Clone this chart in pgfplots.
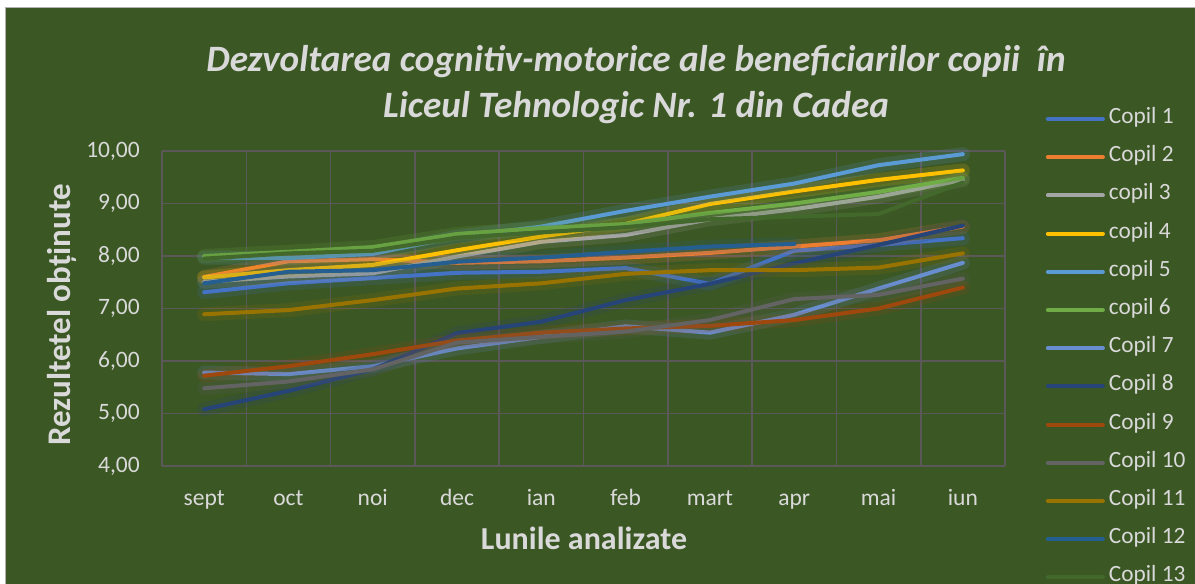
\documentclass[border=0pt]{standalone}
\usepackage{fontspec}
\setmainfont{Carlito}
\usepackage{pgfplots}
\pgfplotsset{compat=1.18}
\definecolor{bg}{RGB}{59,87,36}
\definecolor{gridc}{RGB}{90,88,88}
\definecolor{txt}{RGB}{217,217,217}
\definecolor{c1}{HTML}{4472C4}
\definecolor{c2}{HTML}{ED7D31}
\definecolor{c3}{HTML}{A5A5A5}
\definecolor{c4}{HTML}{FFC000}
\definecolor{c5}{HTML}{5B9BD5}
\definecolor{c6}{HTML}{70AD47}
\definecolor{c7}{HTML}{698ED0}
\definecolor{c8}{HTML}{264478}
\definecolor{c9}{HTML}{9E480E}
\definecolor{c10}{HTML}{636363}
\definecolor{c11}{HTML}{997300}
\definecolor{c12}{HTML}{255E91}
\definecolor{c13}{HTML}{43682B}
\newif\ifglow \glowtrue
\tikzset{glow/.code={\ifglow\tikzset{preaction={draw,line width=14pt,opacity=0.16}}\fi}}
\begin{document}
\begin{tikzpicture}
\useasboundingbox (0,0) rectangle (1195pt,584pt);
\fill[white] (0,0) rectangle (1195pt,584pt);
\fill[bg] (5pt,0) rectangle (1195pt,577pt);
\draw[gray!60, line width=0.8pt] (5pt,0) -- (5pt,577pt) -- (1195pt,577pt);
\begin{scope}
\clip (0,0) rectangle (1195pt,584pt);
\begin{axis}[
  at={(162pt,118pt)}, anchor=south west,
  scale only axis, width=843pt, height=315pt,
  xmin=-0.5, xmax=9.5, ymin=4, ymax=10,
  xtick={0,...,9},
  xticklabels={sept,oct,noi,dec,ian,feb,mart,apr,mai,iun},
  minor xtick={-0.5,0.5,...,9.5},
  xminorgrids, ymajorgrids,
  ytick={4,5,...,10},
  major tick length=0pt, minor tick length=0pt,
  axis line style={draw=none},
  grid style={gridc, line width=1.6pt},
  minor grid style={gridc, line width=1.6pt},
  tick label style={txt, font=\fontsize{23.5}{26}\selectfont, inner sep=0pt},
  /pgf/number format/assume math mode=true,
  yticklabel={\pgfmathprintnumber[fixed, fixed zerofill, precision=2, use comma]{\tick}},
  yticklabel style={anchor=east, xshift=-22pt},
  xticklabel style={anchor=base, yshift=-39pt},
  clip=false,
  legend style={/utils/exec={\global\glowfalse},
    at={(axis description cs:1.0447,1.1355)}, anchor=north west,
    draw=none, fill=none, text=txt, font=\fontsize{23.3}{26}\selectfont,
    row sep=21.2pt, column sep=4pt, nodes={inner sep=0pt, text height=13pt, text depth=4pt}},
  legend cell align=left,
  legend image code/.code={\global\glowfalse\draw[#1, line width=4pt, line cap=round] (0pt,0pt) -- (55pt,0pt);},
  every axis plot/.append style={line width=4pt, line cap=round, line join=round, glow},
]
\addplot[c1] coordinates {(0,7.31)(1,7.48)(2,7.58)(3,7.68)(4,7.70)(5,7.77)(6,7.47)(7,8.10)(8,8.21)(9,8.34)};
\addlegendentry{Copil 1}
\addplot[c2] coordinates {(0,7.60)(1,7.90)(2,7.94)(3,7.87)(4,7.90)(5,7.97)(6,8.06)(7,8.18)(8,8.30)(9,8.56)};
\addlegendentry{Copil 2}
\addplot[c3] coordinates {(0,7.51)(1,7.61)(2,7.67)(3,7.99)(4,8.27)(5,8.40)(6,8.70)(7,8.89)(8,9.13)(9,9.45)};
\addlegendentry{copil 3}
\addplot[c4] coordinates {(0,7.59)(1,7.73)(2,7.83)(3,8.11)(4,8.37)(5,8.61)(6,8.99)(7,9.23)(8,9.45)(9,9.63)};
\addlegendentry{copil 4}
\addplot[c5] coordinates {(0,7.97)(1,7.96)(2,8.04)(3,8.37)(4,8.56)(5,8.86)(6,9.13)(7,9.38)(8,9.73)(9,9.94)};
\addlegendentry{copil 5}
\addplot[c6] coordinates {(0,8.00)(1,8.08)(2,8.17)(3,8.42)(4,8.53)(5,8.61)(6,8.82)(7,9.00)(8,9.22)(9,9.49)};
\addlegendentry{copil 6}
\addplot[c7] coordinates {(0,5.78)(1,5.75)(2,5.90)(3,6.24)(4,6.46)(5,6.66)(6,6.54)(7,6.88)(8,7.38)(9,7.87)};
\addlegendentry{Copil 7}
\addplot[c8] coordinates {(0,5.08)(1,5.43)(2,5.84)(3,6.53)(4,6.75)(5,7.16)(6,7.47)(7,7.86)(8,8.21)(9,8.58)};
\addlegendentry{Copil 8}
\addplot[c9] coordinates {(0,5.72)(1,5.90)(2,6.13)(3,6.39)(4,6.54)(5,6.62)(6,6.67)(7,6.78)(8,7.00)(9,7.40)};
\addlegendentry{Copil 9}
\addplot[c10] coordinates {(0,5.48)(1,5.61)(2,5.84)(3,6.35)(4,6.46)(5,6.56)(6,6.78)(7,7.18)(8,7.26)(9,7.57)};
\addlegendentry{Copil 10}
\addplot[c11] coordinates {(0,6.89)(1,6.97)(2,7.16)(3,7.38)(4,7.48)(5,7.66)(6,7.73)(7,7.73)(8,7.78)(9,8.05)};
\addlegendentry{Copil 11}
\addplot[c12] coordinates {(0,7.48)(1,7.70)(2,7.73)(3,7.89)(4,7.97)(5,8.08)(6,8.18)(7,8.23)};
\addlegendentry{Copil 12}
\addplot[c13] coordinates {(0,7.95)(1,8.05)(2,8.10)(3,8.35)(4,8.45)(5,8.55)(6,8.70)(7,8.75)(8,8.80)(9,9.40)};
\addlegendentry{Copil 13}
\end{axis}
\end{scope}
\node[txt, anchor=base, font=\fontsize{37.2}{40}\selectfont\bfseries\itshape] at (636pt,512pt) {Dezvoltarea cognitiv-motorice ale beneficiarilor copii\ \ în};
\node[txt, anchor=base, font=\fontsize{37.2}{40}\selectfont\bfseries\itshape] at (636pt,466pt) {Liceul Tehnologic Nr. 1 din Cadea};
\node[txt, rotate=90, anchor=base, font=\fontsize{33}{36}\selectfont\bfseries] at (70pt,269pt) {Rezultetel obținute};
\node[txt, anchor=base, font=\fontsize{32}{36}\selectfont\bfseries] at (584pt,34pt) {Lunile analizate};
\end{tikzpicture}
\end{document}
